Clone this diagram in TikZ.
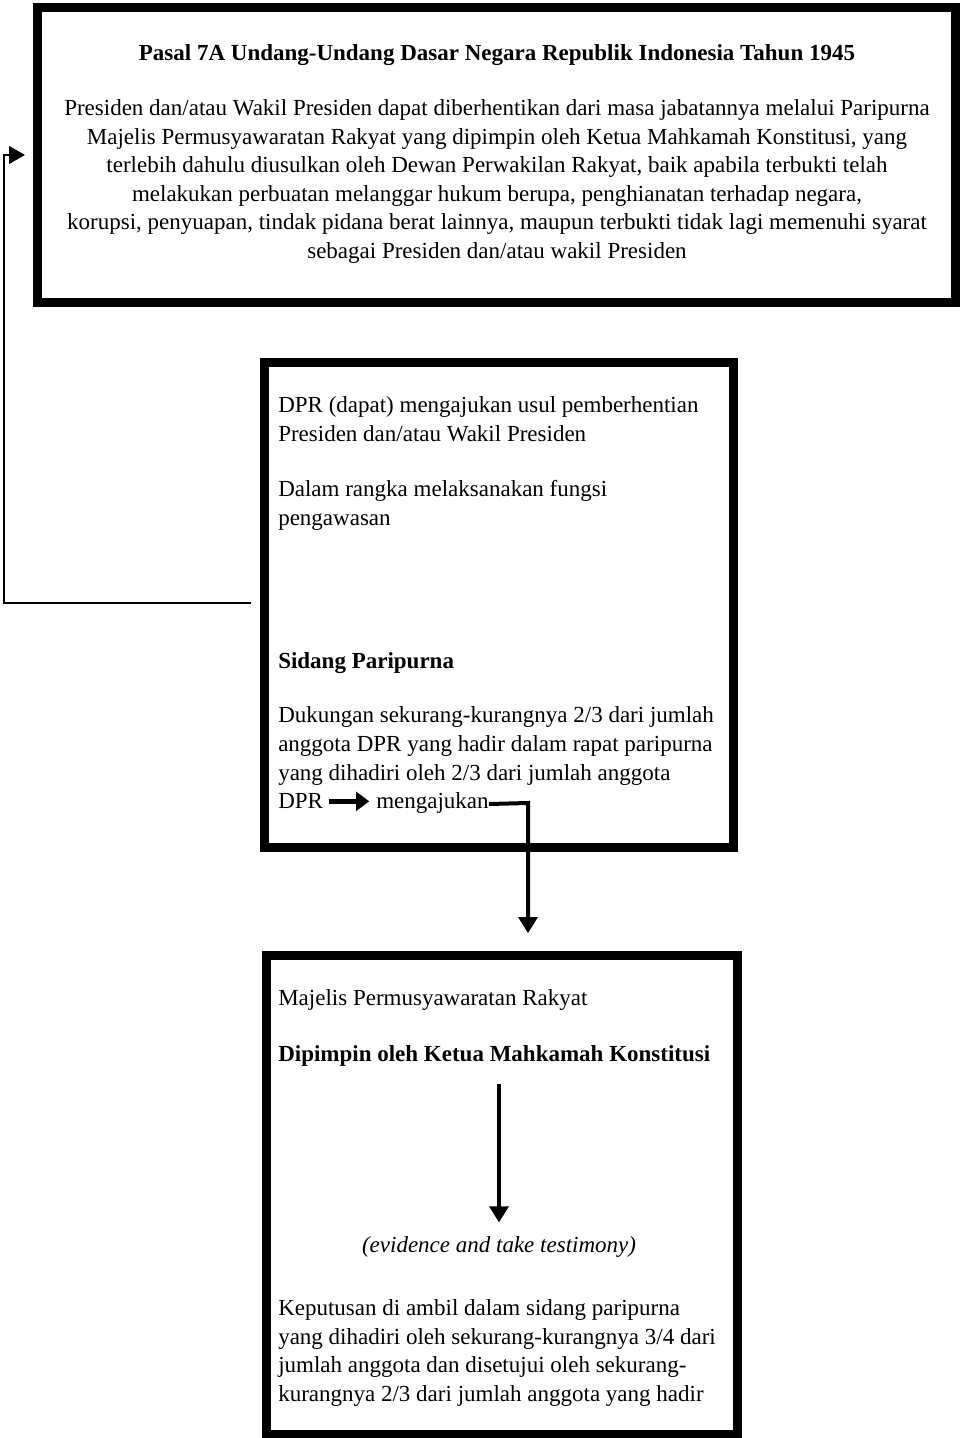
\documentclass[tikz,border=0pt]{standalone}
\usepackage{fontspec}
\setmainfont{Liberation Serif}
\usetikzlibrary{arrows.meta}
\begin{document}
\begin{tikzpicture}[x=0.75pt,y=-0.75pt,
  frame/.style={draw=black, line width=6.75pt, rectangle, inner sep=0pt},
  conn/.style={draw=black, line width=3pt, -{Triangle[width=14pt,length=12pt]}},
  thinconn/.style={draw=black, line width=2.2pt, -{Triangle[width=13pt,length=12pt]}},
  inlinearrow/.style={draw=black, line width=3.4pt, -{Triangle[width=14pt,length=10pt]}},
  txt/.style={inner sep=0pt, font=\fontsize{17.25pt}{21.4pt}\selectfont},
  txtb/.style={inner sep=0pt, font=\fontsize{17.25pt}{21.4pt}\selectfont\bfseries},
  txti/.style={inner sep=0pt, font=\fontsize{17.25pt}{21.4pt}\selectfont\itshape},
  para/.style={txt, align=left, anchor=base west},
]
\useasboundingbox[fill=white] (0,0) rectangle (960,1438);

% the three frames
\node[frame, minimum width=688.5pt, minimum height=221.25pt] (topbox) at (496.5,155) {};
\node[frame, minimum width=351.4pt, minimum height=363.75pt] (midbox) at (499.25,604.5) {};
\node[frame, minimum width=353.25pt, minimum height=359.25pt] (botbox) at (501.5,1194.5) {};

% article 7A (multi-line nodes are placed by the baseline of their last line)
\node[txtb, anchor=base] (title) at (497,61) {Pasal 7A Undang-Undang Dasar Negara Republik Indonesia Tahun 1945};
\node[txt, align=center, anchor=base] (pasal) at (497,258.5) {Presiden dan/atau Wakil Presiden dapat diberhentikan dari masa jabatannya melalui Paripurna\\
Majelis Permusyawaratan Rakyat yang dipimpin oleh Ketua Mahkamah Konstitusi, yang\\
terlebih dahulu diusulkan oleh Dewan Perwakilan Rakyat, baik apabila terbukti telah\\
melakukan perbuatan melanggar hukum berupa, penghianatan terhadap negara,\\
korupsi, penyuapan, tindak pidana berat lainnya, maupun terbukti tidak lagi memenuhi syarat\\
sebagai Presiden dan/atau wakil Presiden};

% DPR
\node[para] (usul) at (278,441.5) {DPR (dapat) mengajukan usul pemberhentian\\Presiden dan/atau Wakil Presiden};
\node[para] (fungsi) at (278,525.5) {Dalam rangka melaksanakan fungsi\\pengawasan};
\node[txtb, anchor=base west] (sidang) at (278,668) {Sidang Paripurna};
\node[para] (dukung) at (278,780) {Dukungan sekurang-kurangnya 2/3 dari jumlah\\anggota DPR yang hadir dalam rapat paripurna\\yang dihadiri oleh 2/3 dari jumlah anggota};
\node[para] (dprlast) at (278,808) {DPR};
\node[para] (meng) at (376,808) {mengajukan};

% MPR
\node[para] (mpr) at (278,1005) {Majelis Permusyawaratan Rakyat};
\node[txtb, anchor=base west] (dip) at (278,1061) {Dipimpin oleh Ketua Mahkamah Konstitusi};
\node[txti, anchor=base] (ev) at (499,1252) {(evidence and take testimony)};
\node[para] (kep) at (278,1401.5) {Keputusan di ambil dalam sidang paripurna\\yang dihadiri oleh sekurang-kurangnya 3/4 dari\\jumlah anggota dan disetujui oleh sekurang-\\kurangnya 2/3 dari jumlah anggota yang hadir};

% connectors
\coordinate (loopstart) at (251,603);
\coordinate (loopcorner) at (4,603);
\draw[thinconn, shorten >=6pt] (loopstart) -- (loopcorner) |- (topbox.west);

\draw[inlinearrow, shorten <=4pt, shorten >=5pt]
  ([yshift=5pt]dprlast.base east) -- ([yshift=5pt]meng.base west);

\coordinate (drop) at (528,803);
\draw[conn, shorten >=13pt] ([yshift=3pt]meng.base east) -- (drop) -- (drop |- botbox.north);

\draw[conn, shorten <=13pt, shorten >=10pt] (dip.south -| ev.north) -- (ev.north);
\end{tikzpicture}
\end{document}
